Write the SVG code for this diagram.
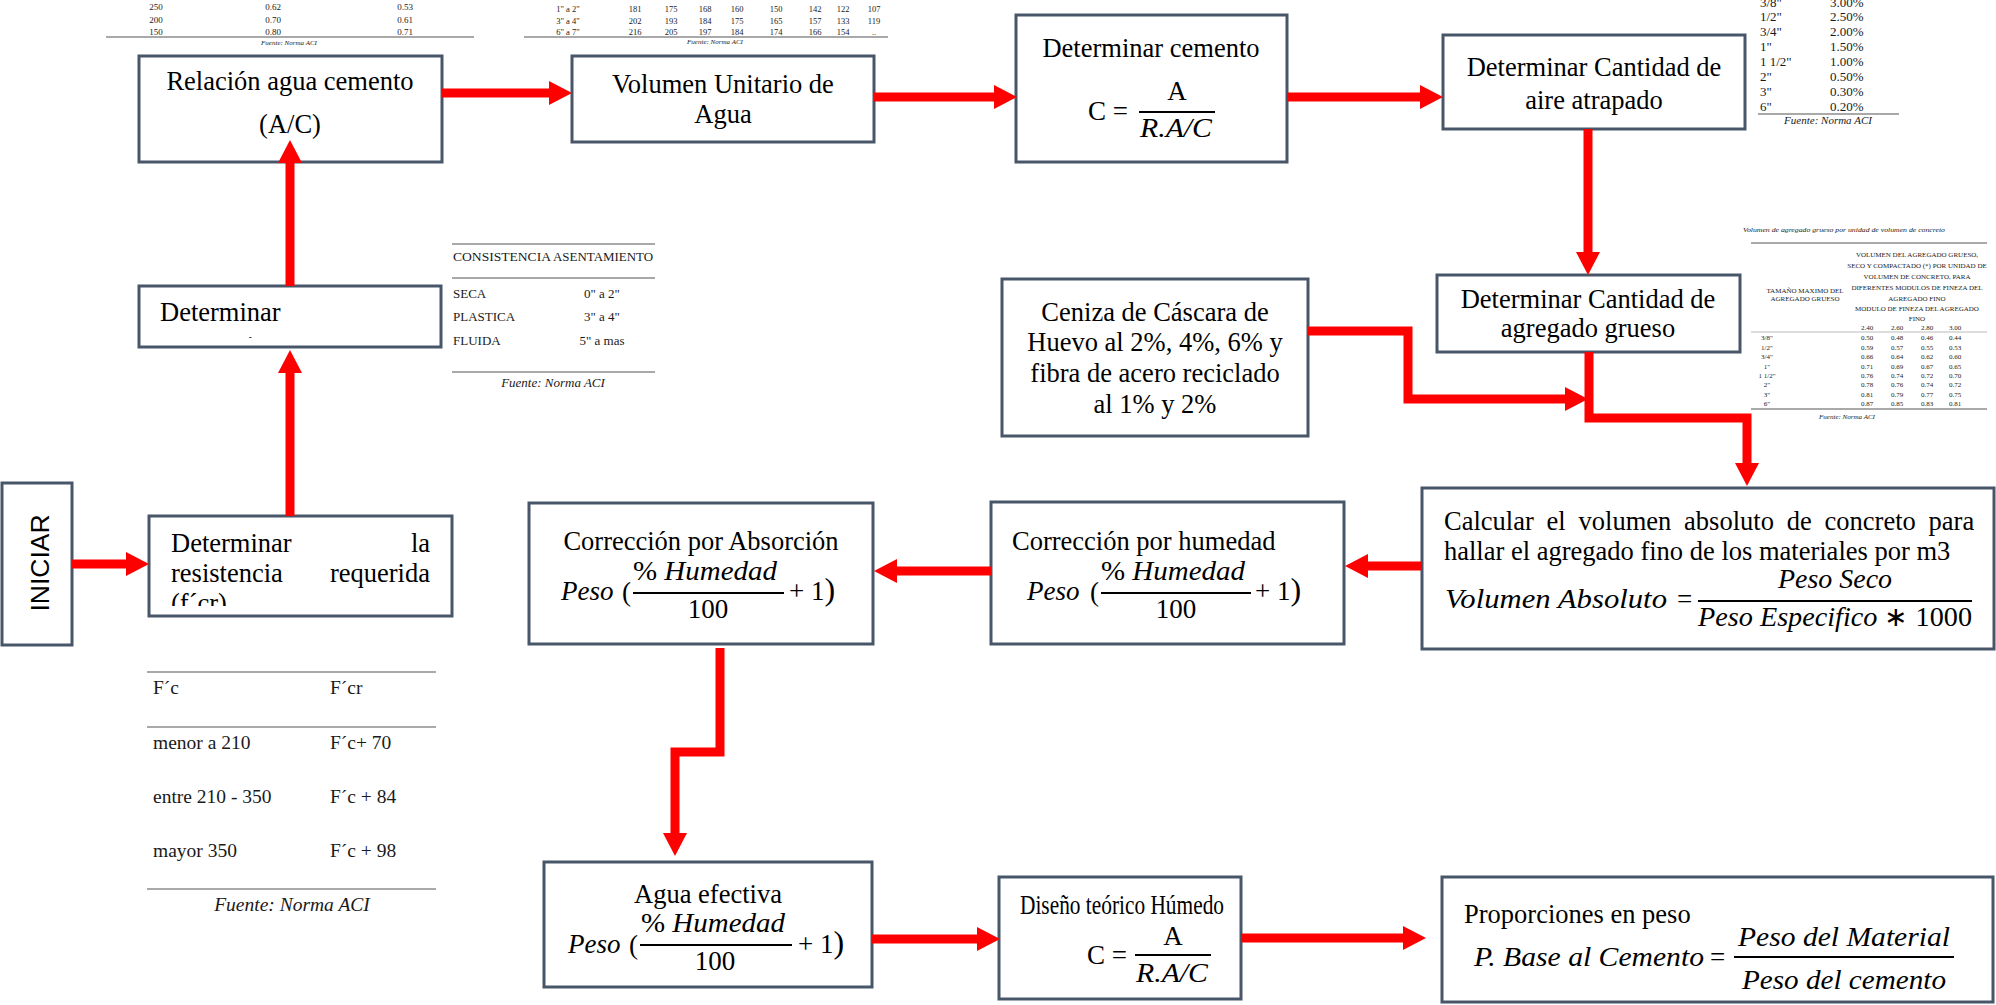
<svg xmlns="http://www.w3.org/2000/svg" width="1996" height="1005" viewBox="0 0 1996 1005">
<defs>
<style>
.box{fill:#fff;stroke:#48566A;stroke-width:3}
.t{font-family:"Liberation Serif",serif;font-size:26.5px;fill:#000}
.mi{font-family:"Liberation Serif",serif;font-style:italic;font-size:27px;fill:#000}
.mr{font-family:"Liberation Serif",serif;font-size:27px;fill:#000}
.c{text-anchor:middle}
.e{text-anchor:end}
.tb{font-family:"Liberation Serif",serif;fill:#1a1a1a}
.it{font-style:italic}
.rule{stroke:#8c8c8c;stroke-width:1.5}
.frac{stroke:#000;stroke-width:2}
.conn{fill:none;stroke:#FF0000;stroke-width:9;stroke-linejoin:miter}
.sans{font-family:"Liberation Sans",Arial,sans-serif;font-size:26.5px;fill:#000}
</style>
<marker id="ah" markerUnits="userSpaceOnUse" markerWidth="24" markerHeight="24" refX="0" refY="12" orient="auto"><path d="M0,0 L23,12 L0,24 Z" fill="#FF0000"/></marker>
<clipPath id="clipDet"><rect x="139" y="286" width="302" height="52"/></clipPath>
<clipPath id="clipRes"><rect x="149" y="516" width="303" height="90"/></clipPath>
</defs>
<rect width="1996" height="1005" fill="#fff"/>

<!-- reference tables -->
<g id="tabla-ac" class="tb" font-size="9">
  <text x="156" y="10" text-anchor="middle">250</text><text x="273" y="10" text-anchor="middle">0.62</text><text x="405" y="10" text-anchor="middle">0.53</text>
  <text x="156" y="22.5" text-anchor="middle">200</text><text x="273" y="22.5" text-anchor="middle">0.70</text><text x="405" y="22.5" text-anchor="middle">0.61</text>
  <text x="156" y="35" text-anchor="middle">150</text><text x="273" y="35" text-anchor="middle">0.80</text><text x="405" y="35" text-anchor="middle">0.71</text>
  <line class="rule" x1="106" y1="37" x2="474" y2="37"/>
  <text x="289" y="45" text-anchor="middle" class="it" font-size="7">Fuente: Norma ACI</text>
</g>
<g id="tabla-agua" class="tb" font-size="8.5">
  <g text-anchor="middle">
  <text x="568" y="12">1" a 2"</text><text x="635" y="12">181</text><text x="671" y="12">175</text><text x="705" y="12">168</text><text x="737" y="12">160</text><text x="776" y="12">150</text><text x="815" y="12">142</text><text x="843" y="12">122</text><text x="874" y="12">107</text>
  <text x="568" y="24">3" a 4"</text><text x="635" y="24">202</text><text x="671" y="24">193</text><text x="705" y="24">184</text><text x="737" y="24">175</text><text x="776" y="24">165</text><text x="815" y="24">157</text><text x="843" y="24">133</text><text x="874" y="24">119</text>
  <text x="568" y="35">6" a 7"</text><text x="635" y="35">216</text><text x="671" y="35">205</text><text x="705" y="35">197</text><text x="737" y="35">184</text><text x="776" y="35">174</text><text x="815" y="35">166</text><text x="843" y="35">154</text><text x="874" y="35">..</text>
  </g>
  <line class="rule" x1="524" y1="37" x2="888" y2="37"/>
  <text x="715" y="44" text-anchor="middle" class="it" font-size="7">Fuente: Norma ACI</text>
</g>
<g id="tabla-aire" class="tb" font-size="13">
  <text x="1760" y="6.5">3/8"</text><text x="1830" y="6.5">3.00%</text>
  <text x="1760" y="20.5">1/2"</text><text x="1830" y="20.5">2.50%</text>
  <text x="1760" y="35.5">3/4"</text><text x="1830" y="35.5">2.00%</text>
  <text x="1760" y="50.5">1"</text><text x="1830" y="50.5">1.50%</text>
  <text x="1760" y="65.5">1 1/2"</text><text x="1830" y="65.5">1.00%</text>
  <text x="1760" y="80.5">2"</text><text x="1830" y="80.5">0.50%</text>
  <text x="1760" y="95.5">3"</text><text x="1830" y="95.5">0.30%</text>
  <text x="1760" y="110.5">6"</text><text x="1830" y="110.5">0.20%</text>
  <line class="rule" x1="1758" y1="114" x2="1899" y2="114"/>
  <text x="1828" y="124" text-anchor="middle" class="it" font-size="11">Fuente: Norma ACI</text>
</g>
<g id="tabla-consistencia" class="tb" font-size="13">
  <line class="rule" x1="452" y1="244" x2="655" y2="244"/>
  <text x="453" y="261" textLength="98" lengthAdjust="spacingAndGlyphs">CONSISTENCIA</text>
  <text x="553" y="261" textLength="100" lengthAdjust="spacingAndGlyphs">ASENTAMIENTO</text>
  <line class="rule" x1="452" y1="278" x2="655" y2="278"/>
  <text x="453" y="298">SECA</text><text x="602" y="298" text-anchor="middle">0" a 2"</text>
  <text x="453" y="321">PLASTICA</text><text x="602" y="321" text-anchor="middle">3" a 4"</text>
  <text x="453" y="344.5">FLUIDA</text><text x="602" y="344.5" text-anchor="middle">5" a mas</text>
  <line class="rule" x1="452" y1="372" x2="655" y2="372"/>
  <text x="553" y="387" text-anchor="middle" class="it">Fuente: Norma ACI</text>
</g>
<g id="tabla-fcr" class="tb" font-size="19.5">
  <line class="rule" x1="147" y1="672" x2="436" y2="672"/>
  <text x="153" y="694">F´c</text><text x="330" y="694">F´cr</text>
  <line class="rule" x1="147" y1="727" x2="436" y2="727"/>
  <text x="153" y="749">menor a 210</text><text x="330" y="749">F´c+ 70</text>
  <text x="153" y="803">entre 210 - 350</text><text x="330" y="803">F´c + 84</text>
  <text x="153" y="857">mayor 350</text><text x="330" y="857">F´c + 98</text>
  <line class="rule" x1="147" y1="889" x2="436" y2="889"/>
  <text x="292" y="911" text-anchor="middle" class="it">Fuente: Norma ACI</text>
</g>
<g id="tabla-grueso" class="tb" font-size="7">
  <text x="1844" y="231.5" text-anchor="middle" class="it" textLength="202" lengthAdjust="spacingAndGlyphs">Volumen de agregado grueso por unidad de volumen de concreto</text>
  <line class="rule" x1="1751" y1="243" x2="1987" y2="243"/>
  <g text-anchor="middle">
  <text x="1805" y="293">TAMAÑO MAXIMO DEL</text>
  <text x="1805" y="300.5">AGREGADO GRUESO</text>
  <text x="1917" y="256.5">VOLUMEN DEL AGREGADO GRUESO,</text>
  <text x="1917" y="267.5">SECO Y COMPACTADO (*) POR UNIDAD DE</text>
  <text x="1917" y="278.5">VOLUMEN DE CONCRETO, PARA</text>
  <text x="1917" y="289.5">DIFERENTES MODULOS DE FINEZA DEL</text>
  <text x="1917" y="300.5">AGREGADO FINO</text>
  <text x="1917" y="310.5">MODULO DE FINEZA DEL AGREGADO</text>
  <text x="1917" y="320.5">FINO</text>
  <text x="1867" y="329.5">2.40</text><text x="1897" y="329.5">2.60</text><text x="1927" y="329.5">2.80</text><text x="1955" y="329.5">3.00</text>
  <text x="1767" y="339.5">3/8"</text><text x="1867" y="339.5">0.50</text><text x="1897" y="339.5">0.48</text><text x="1927" y="339.5">0.46</text><text x="1955" y="339.5">0.44</text>
  <text x="1767" y="349.5">1/2"</text><text x="1867" y="349.5">0.59</text><text x="1897" y="349.5">0.57</text><text x="1927" y="349.5">0.55</text><text x="1955" y="349.5">0.53</text>
  <text x="1767" y="358.5">3/4"</text><text x="1867" y="358.5">0.66</text><text x="1897" y="358.5">0.64</text><text x="1927" y="358.5">0.62</text><text x="1955" y="358.5">0.60</text>
  <text x="1767" y="368.5">1"</text><text x="1867" y="368.5">0.71</text><text x="1897" y="368.5">0.69</text><text x="1927" y="368.5">0.67</text><text x="1955" y="368.5">0.65</text>
  <text x="1767" y="377.5">1 1/2"</text><text x="1867" y="377.5">0.76</text><text x="1897" y="377.5">0.74</text><text x="1927" y="377.5">0.72</text><text x="1955" y="377.5">0.70</text>
  <text x="1767" y="386.5">2"</text><text x="1867" y="386.5">0.78</text><text x="1897" y="386.5">0.76</text><text x="1927" y="386.5">0.74</text><text x="1955" y="386.5">0.72</text>
  <text x="1767" y="396.5">3"</text><text x="1867" y="396.5">0.81</text><text x="1897" y="396.5">0.79</text><text x="1927" y="396.5">0.77</text><text x="1955" y="396.5">0.75</text>
  <text x="1767" y="405.5">6"</text><text x="1867" y="405.5">0.87</text><text x="1897" y="405.5">0.85</text><text x="1927" y="405.5">0.83</text><text x="1955" y="405.5">0.81</text>
  </g>
  <line x1="1751" y1="332" x2="1987" y2="332" stroke="#aaa" stroke-width="0.8"/>
  <line class="rule" x1="1751" y1="409" x2="1987" y2="409"/>
  <text x="1847" y="418.5" text-anchor="middle" class="it">Fuente: Norma ACI</text>
</g>

<!-- nodes -->
<g id="iniciar">
  <rect class="box" x="2" y="483" width="70" height="162"/>
  <text class="sans" text-anchor="middle" transform="translate(49,563) rotate(-90)">INICIAR</text>
</g>
<g id="resistencia">
  <rect class="box" x="149" y="516" width="303" height="100"/>
  <g clip-path="url(#clipRes)">
    <text class="t" x="171" y="552">Determinar</text><text class="t e" x="430" y="552">la</text>
    <text class="t" x="171" y="582">resistencia</text><text class="t e" x="430" y="582">requerida</text>
    <text class="t" x="171" y="612">(f´cr)</text>
  </g>
</g>
<g id="determinar">
  <rect class="box" x="139" y="286" width="302" height="61"/>
  <g clip-path="url(#clipDet)">
    <text class="t" x="160" y="321">Determinar</text>
    <text class="t" x="160" y="355">asentamiento</text>
  </g>
</g>
<g id="relacion">
  <rect class="box" x="139" y="56" width="303" height="106"/>
  <text class="t c" x="290" y="90" font-size="24">Relación agua cemento</text>
  <text class="t c" x="290" y="133" font-size="24">(A/C)</text>
</g>
<g id="volumen">
  <rect class="box" x="572" y="56" width="302" height="86"/>
  <text class="t c" x="723" y="93">Volumen Unitario de</text>
  <text class="t c" x="723" y="123">Agua</text>
</g>
<g id="cemento">
  <rect class="box" x="1016" y="15" width="271" height="147"/>
  <text class="t c" x="1151" y="57">Determinar cemento</text>
  <text class="mr" x="1088" y="120" font-size="28">C =</text>
  <line class="frac" x1="1139" y1="112" x2="1215" y2="112"/>
  <text class="mr c" x="1177" y="100" font-size="28">A</text>
  <text class="mi" x="1140" y="137" font-size="28" textLength="72" lengthAdjust="spacingAndGlyphs">R.A/C</text>
</g>
<g id="aire">
  <rect class="box" x="1443" y="35" width="302" height="94"/>
  <text class="t c" x="1594" y="76">Determinar Cantidad de</text>
  <text class="t c" x="1594" y="109">aire atrapado</text>
</g>
<g id="ceniza">
  <rect class="box" x="1002" y="279" width="306" height="157"/>
  <text class="t c" x="1155" y="321">Ceniza de Cáscara de</text>
  <text class="t c" x="1155" y="351">Huevo al 2%, 4%, 6% y</text>
  <text class="t c" x="1155" y="382">fibra de acero reciclado</text>
  <text class="t c" x="1155" y="413">al 1% y 2%</text>
</g>
<g id="grueso">
  <rect class="box" x="1437" y="275" width="303" height="77"/>
  <text class="t c" x="1588" y="308" font-size="24">Determinar Cantidad de</text>
  <text class="t c" x="1588" y="337" font-size="24">agregado grueso</text>
</g>
<g id="calcular">
  <rect class="box" x="1422" y="488" width="572" height="161"/>
  <text class="t" x="1444" y="530" word-spacing="6.2">Calcular el volumen absoluto de concreto para</text>
  <text class="t" x="1444" y="560">hallar el agregado fino de los materiales por m3</text>
  <text class="mi" x="1445" y="608" textLength="222" lengthAdjust="spacingAndGlyphs">Volumen Absoluto</text>
  <text class="mr" x="1677" y="608">=</text>
  <line class="frac" x1="1698" y1="601" x2="1972" y2="601"/>
  <text class="mi c" x="1835" y="588" textLength="114" lengthAdjust="spacingAndGlyphs">Peso Seco</text>
  <text class="mi" x="1698" y="626" textLength="274" lengthAdjust="spacingAndGlyphs">Peso Especifico <tspan font-style="normal">∗ 1000</tspan></text>
</g>
<g id="humedad">
  <rect class="box" x="991" y="502" width="353" height="142"/>
  <text class="t" x="1012" y="550">Corrección por humedad</text>
  <text class="mi" x="1027" y="600">Peso</text><text class="mr" x="1090" y="601" font-size="32">(</text>
  <line class="frac" x1="1101" y1="593" x2="1251" y2="593"/>
  <text class="mi c" x="1173" y="580" textLength="144" lengthAdjust="spacingAndGlyphs"><tspan font-style="normal">%</tspan> Humedad</text>
  <text class="mr c" x="1176" y="618">100</text>
  <text class="mr" x="1255" y="600">+ 1<tspan font-size="32">)</tspan></text>
</g>
<g id="absorcion">
  <rect class="box" x="529" y="503" width="344" height="141"/>
  <text class="t c" x="701" y="550">Corrección por Absorción</text>
  <text class="mi" x="561" y="600">Peso</text><text class="mr" x="622" y="601" font-size="32">(</text>
  <line class="frac" x1="633" y1="593" x2="784" y2="593"/>
  <text class="mi c" x="705" y="580" textLength="144" lengthAdjust="spacingAndGlyphs"><tspan font-style="normal">%</tspan> Humedad</text>
  <text class="mr c" x="708" y="618">100</text>
  <text class="mr" x="789" y="600">+ 1<tspan font-size="32">)</tspan></text>
</g>
<g id="agua-efectiva">
  <rect class="box" x="544" y="862" width="328" height="125"/>
  <text class="t c" x="708" y="903">Agua efectiva</text>
  <text class="mi" x="568" y="953">Peso</text><text class="mr" x="629" y="954" font-size="32">(</text>
  <line class="frac" x1="640" y1="945" x2="792" y2="945"/>
  <text class="mi c" x="713" y="932" textLength="144" lengthAdjust="spacingAndGlyphs"><tspan font-style="normal">%</tspan> Humedad</text>
  <text class="mr c" x="715" y="970">100</text>
  <text class="mr" x="798" y="953">+ 1<tspan font-size="32">)</tspan></text>
</g>
<g id="diseno">
  <rect class="box" x="999" y="877" width="242" height="122"/>
  <text class="t" x="1020" y="914" font-size="24" textLength="204" lengthAdjust="spacingAndGlyphs">Diseño teórico Húmedo</text>
  <text class="mr" x="1087" y="964" font-size="28">C =</text>
  <line class="frac" x1="1135" y1="955" x2="1211" y2="955"/>
  <text class="mr c" x="1173" y="945" font-size="27">A</text>
  <text class="mi" x="1136" y="982" font-size="28" textLength="72" lengthAdjust="spacingAndGlyphs">R.A/C</text>
</g>
<g id="proporciones">
  <rect class="box" x="1442" y="877" width="551" height="125"/>
  <text class="t" x="1464" y="923">Proporciones en peso</text>
  <text class="mi" x="1474" y="966" textLength="230" lengthAdjust="spacingAndGlyphs">P. Base al Cemento</text>
  <text class="mr" x="1710" y="966">=</text>
  <line class="frac" x1="1734" y1="957" x2="1954" y2="957"/>
  <text class="mi c" x="1844" y="946" textLength="212" lengthAdjust="spacingAndGlyphs">Peso del Material</text>
  <text class="mi c" x="1844" y="989" textLength="204" lengthAdjust="spacingAndGlyphs">Peso del cemento</text>
</g>

<!-- connectors (drawn over the nodes, as in the reference) -->
<g id="connectors">
  <path class="conn" marker-end="url(#ah)" d="M72,564 H126"/>
  <path class="conn" marker-end="url(#ah)" d="M290,516 V373"/>
  <path class="conn" marker-end="url(#ah)" d="M290,286 V163"/>
  <path class="conn" marker-end="url(#ah)" d="M442,93 H549"/>
  <path class="conn" marker-end="url(#ah)" d="M874,97 H994"/>
  <path class="conn" marker-end="url(#ah)" d="M1287,97 H1420"/>
  <path class="conn" marker-end="url(#ah)" d="M1588,129 V252"/>
  <path class="conn" marker-end="url(#ah)" d="M1308,331 H1408 V399 H1565"/>
  <path class="conn" marker-end="url(#ah)" d="M1589,352 V418 H1747 V463"/>
  <path class="conn" marker-end="url(#ah)" d="M1422,566 H1368"/>
  <path class="conn" marker-end="url(#ah)" d="M991,571 H897"/>
  <path class="conn" marker-end="url(#ah)" d="M720,648 V752 H675 V833"/>
  <path class="conn" marker-end="url(#ah)" d="M872,939 H977"/>
  <path class="conn" marker-end="url(#ah)" d="M1241,938 H1403"/>
</g>
</svg>
